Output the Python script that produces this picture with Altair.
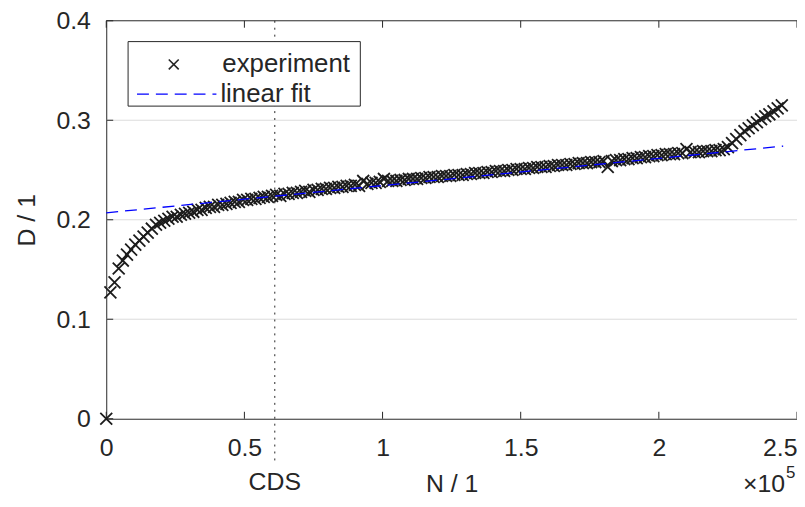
import altair as alt
import pandas as pd

# ---------------- data ----------------
N_VALUES = [
    0, 1500, 3000, 4500, 6000, 7500, 9000, 10500, 12000, 13500,
    15000, 16500, 18000, 19500, 21000, 22500, 24000, 25500, 27000, 28500,
    30000, 31500, 33000, 34500, 36000, 37500, 39000, 40500, 42000, 43500,
    45000, 46500, 48000, 49500, 51000, 52500, 54000, 55500, 57000, 58500,
    60000, 61500, 63000, 64500, 66000, 67500, 69000, 70500, 72000, 73500,
    75000, 76500, 78000, 79500, 81000, 82500, 84000, 85500, 87000, 88500,
    90000, 91500, 93000, 94500, 96000, 97500, 99000, 100500, 102000, 103500,
    105000, 106500, 108000, 109500, 111000, 112500, 114000, 115500, 117000, 118500,
    120000, 121500, 123000, 124500, 126000, 127500, 129000, 130500, 132000, 133500,
    135000, 136500, 138000, 139500, 141000, 142500, 144000, 145500, 147000, 148500,
    150000, 151500, 153000, 154500, 156000, 157500, 159000, 160500, 162000, 163500,
    165000, 166500, 168000, 169500, 171000, 172500, 174000, 175500, 177000, 178500,
    180000, 181500, 183000, 184500, 186000, 187500, 189000, 190500, 192000, 193500,
    195000, 196500, 198000, 199500, 201000, 202500, 204000, 205500, 207000, 208500,
    210000, 211500, 213000, 214500, 216000, 217500, 219000, 220500, 222000, 223500,
    225000, 226500, 228000, 229500, 231000, 232500, 234000, 235500, 237000, 238500,
    240000, 241500, 243000, 244500,
]
D_VALUES = [
    0.000, 0.127, 0.137, 0.151, 0.159, 0.165, 0.170, 0.175, 0.179, 0.183,
    0.187, 0.191, 0.195, 0.197, 0.199, 0.201, 0.203, 0.203, 0.205, 0.206,
    0.207, 0.208, 0.210, 0.210, 0.212, 0.213, 0.213, 0.215, 0.215, 0.216,
    0.217, 0.218, 0.218, 0.220, 0.220, 0.221, 0.221, 0.222, 0.223, 0.223,
    0.224, 0.225, 0.224, 0.226, 0.226, 0.227, 0.227, 0.228, 0.229, 0.228,
    0.230, 0.230, 0.231, 0.231, 0.232, 0.232, 0.233, 0.233, 0.234, 0.234,
    0.235, 0.234, 0.239, 0.236, 0.237, 0.237, 0.238, 0.241, 0.239, 0.239,
    0.239, 0.240, 0.240, 0.241, 0.241, 0.241, 0.242, 0.242, 0.243, 0.243,
    0.243, 0.244, 0.244, 0.244, 0.245, 0.245, 0.245, 0.246, 0.246, 0.247,
    0.247, 0.247, 0.248, 0.248, 0.249, 0.249, 0.249, 0.250, 0.250, 0.251,
    0.251, 0.251, 0.252, 0.252, 0.253, 0.253, 0.253, 0.254, 0.254, 0.255,
    0.255, 0.255, 0.256, 0.256, 0.257, 0.257, 0.257, 0.258, 0.258, 0.258,
    0.259, 0.253, 0.259, 0.260, 0.260, 0.261, 0.261, 0.262, 0.262, 0.263,
    0.263, 0.264, 0.264, 0.265, 0.265, 0.266, 0.266, 0.266, 0.267, 0.267,
    0.271, 0.268, 0.268, 0.268, 0.269, 0.269, 0.269, 0.270, 0.270, 0.271,
    0.273, 0.277, 0.281, 0.285, 0.289, 0.292, 0.295, 0.298, 0.301, 0.304,
    0.306, 0.309, 0.312, 0.315,
]
FIT_N = [0, 245000]
FIT_D = [0.207, 0.274]
CDS_N = [61000]
CDS_LABEL = ["CDS"]
X_TICKS = [0, 50000, 100000, 150000, 200000, 250000]
Y_TICKS = [0, 0.1, 0.2, 0.3, 0.4]
GRID_Y = [0.1, 0.2, 0.3]
LEGEND_LABELS = ["experiment", "linear fit"]

# ---------------- styling ----------------
W, H = 696, 401
FONT = "Liberation Sans"
INK = "#262626"
BLUE = "#0000ff"
FS = 25
XMARK = "M-1,-1L1,1M-1,1L1,-1"

xs = alt.Scale(domain=[0, 250000], nice=False, zero=False)
ys = alt.Scale(domain=[0, 0.4], nice=False)

x_axis = alt.Axis(
    values=X_TICKS, labelExpr="format(datum.value / 100000, '~g')",
    title="N / 1", grid=False, ticks=False, domain=True, domainColor=INK,
    domainWidth=1, labelFont=FONT, labelFontSize=FS, labelColor=INK,
    labelPadding=17, labelOverlap=False, labelFlush=False,
    labelAlign={"condition": {"test": "datum.value >= 250000", "value": "right"}, "value": "center"},
    titleFont=FONT, titleFontSize=FS, titleFontWeight="normal", titleColor=INK,
    titlePadding=11,
)
y_axis = alt.Axis(
    values=Y_TICKS, format="~g", title="D / 1", grid=False, ticks=False,
    domain=True, domainColor=INK, domainWidth=1, labelFont=FONT,
    labelFontSize=FS, labelColor=INK, labelPadding=16, labelOverlap=False,
    titleFont=FONT, titleFontSize=FS, titleFontWeight="normal", titleColor=INK,
    titlePadding=17,
)

X = alt.X("N:Q", scale=xs, axis=x_axis)
Y = alt.Y("D:Q", scale=ys, axis=y_axis)

exp_df = pd.DataFrame({"N": N_VALUES, "D": D_VALUES})
fit_df = pd.DataFrame({"N": FIT_N, "D": FIT_D})
grid_df = pd.DataFrame({"D": GRID_Y})
xt_df = pd.DataFrame({"N": X_TICKS})
yt_df = pd.DataFrame({"D": Y_TICKS})
cds_df = pd.DataFrame({"N": CDS_N, "label": CDS_LABEL})
one = pd.DataFrame({"k": [0]})

grid = alt.Chart(grid_df).mark_rule(color="#dcdcdc", strokeWidth=1).encode(
    y=Y, x=alt.value(0), x2=alt.value(W))

cds_line = alt.Chart(cds_df).mark_rule(color=INK, strokeWidth=1, strokeDash=[2, 5]).encode(
    x=X, y=alt.value(0), y2=alt.value(H + 43))

top_spine = alt.Chart(one).mark_rule(color=INK, strokeWidth=1).encode(
    x=alt.value(0), x2=alt.value(W), y=alt.value(0))

xt_bottom = alt.Chart(xt_df).mark_rule(color=INK, strokeWidth=1).encode(
    x=X, y=alt.value(H), y2=alt.value(H - 7))
xt_top = alt.Chart(xt_df).mark_rule(color=INK, strokeWidth=1).encode(
    x=X, y=alt.value(0), y2=alt.value(7))
yt_left = alt.Chart(yt_df).mark_rule(color=INK, strokeWidth=1).encode(
    y=Y, x=alt.value(0), x2=alt.value(7))

points = alt.Chart(exp_df).mark_point(
    shape=XMARK, size=144, strokeWidth=1.8, color="#1c1c1c", filled=False, opacity=1
).encode(x=X, y=Y)

fit = alt.Chart(fit_df).mark_line(color=BLUE, strokeWidth=1.3, strokeDash=[12, 7]).encode(
    x=X, y=Y)

# legend box
leg_box = alt.Chart(one).mark_rect(fill="white", stroke=INK, strokeWidth=1).encode(
    x=alt.value(22), x2=alt.value(256), y=alt.value(21), y2=alt.value(86))
leg_mark = alt.Chart(one).mark_point(
    shape=XMARK, size=100, strokeWidth=1.6, color=INK, filled=False, opacity=1
).encode(x=alt.value(68), y=alt.value(44))
leg_line = alt.Chart(one).mark_rule(color=BLUE, strokeWidth=1.3, strokeDash=[12, 7]).encode(
    x=alt.value(31), x2=alt.value(111), y=alt.value(74))
leg_t1 = alt.Chart(one).mark_text(
    text=LEGEND_LABELS[0], font=FONT, fontSize=26, color=INK, align="left", baseline="middle"
).encode(x=alt.value(117), y=alt.value(44))
leg_t2 = alt.Chart(one).mark_text(
    text=LEGEND_LABELS[1], font=FONT, fontSize=26, color=INK, align="left", baseline="middle"
).encode(x=alt.value(115), y=alt.value(74))

cds_text = alt.Chart(cds_df).mark_text(
    font=FONT, fontSize=FS, color=INK, align="center", baseline="middle"
).encode(x=X, y=alt.value(H + 64), text="label:N")

exp10 = alt.Chart(one).mark_text(
    text="×10", font=FONT, fontSize=FS, color=INK, align="right", baseline="alphabetic"
).encode(x=alt.value(W - 12), y=alt.value(H + 74))
exp5 = alt.Chart(one).mark_text(
    text="5", font=FONT, fontSize=17, color=INK, align="left", baseline="alphabetic"
).encode(x=alt.value(W - 11), y=alt.value(H + 60))

chart = alt.layer(
    grid, cds_line, top_spine, xt_bottom, xt_top, yt_left, points, fit,
    leg_box, leg_mark, leg_line, leg_t1, leg_t2, cds_text, exp10, exp5,
).properties(
    width=W, height=H,
    autosize=alt.AutoSizeParams(type="none"),
    padding={"left": 99, "top": 11, "right": 0, "bottom": 78},
    background="white",
).configure_view(stroke=None)

chart.save("out.html", embed_options={"renderer": "svg", "actions": False})
